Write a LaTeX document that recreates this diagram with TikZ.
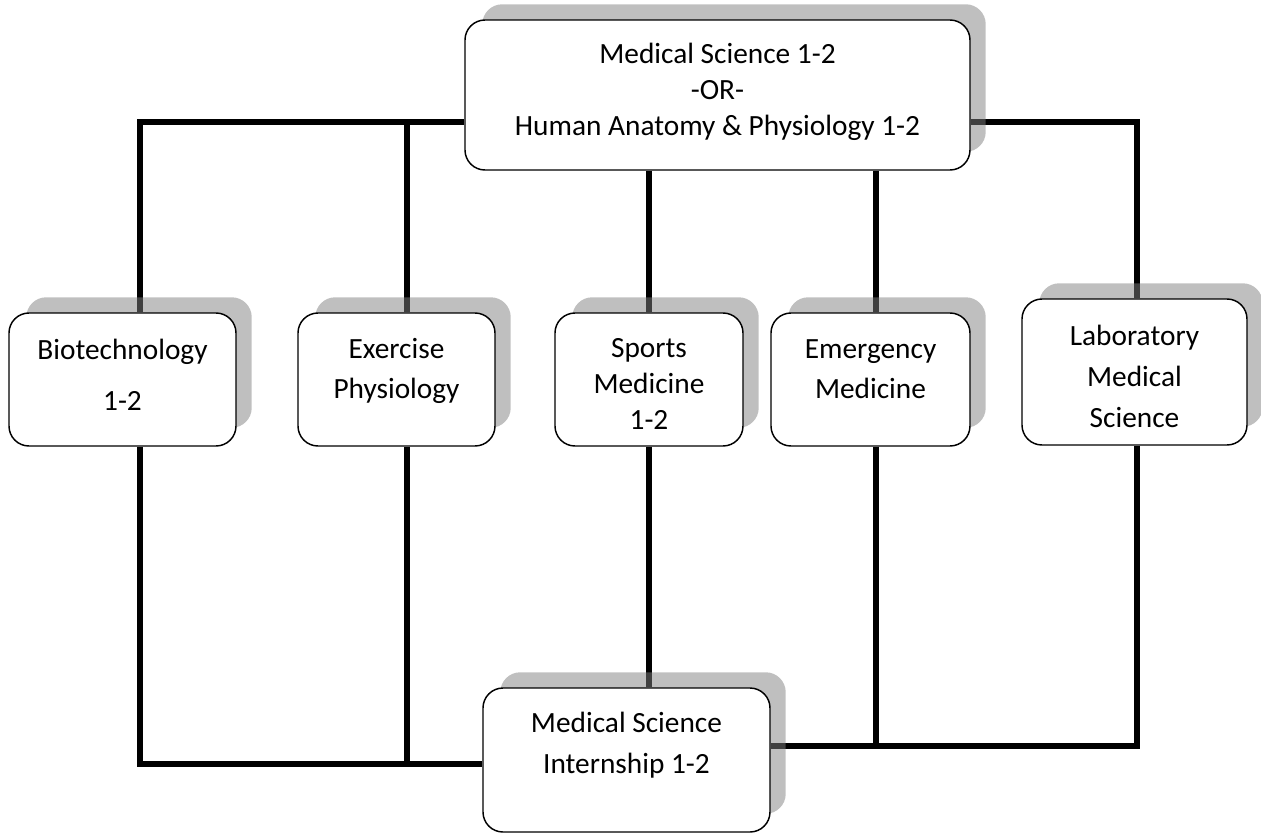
\documentclass[tikz,border=0pt]{standalone}
\usepackage{fontspec}
\setmainfont{Carlito}
\usetikzlibrary{calc}
\pgfdeclarelayer{lines}
\pgfdeclarelayer{shadows}
\pgfsetlayers{lines,shadows,main}
\newcommand{\topstrut}{\rule{0pt}{22.5pt}}
\newcommand{\botstrut}[1]{\rule[-#1]{0pt}{0pt}}
\begin{document}
\begin{tikzpicture}[x=0.75pt,y=-0.75pt]
\tikzset{
  box/.style={draw=black, line width=1.1pt, fill=white, rounded corners=15pt,
    align=center, inner sep=0pt, font=\fontsize{22}{27}\selectfont},
  conn/.style={line width=4pt, line join=miter},
  shadefill/.style={fill=black!50, fill opacity=0.5, rounded corners=15pt},
}
\useasboundingbox (0,0) rectangle (1261,833);

% boxes
\node[box, minimum width=378.75pt, minimum height=112.5pt] (top) at (717.5,95)
  {\topstrut Medical Science 1-2\\-OR-\\Human Anatomy \& Physiology 1-2\botstrut{16.5pt}};
\node[box, minimum width=170.25pt, minimum height=99.75pt] (bio) at (122.5,379.5)
  {\topstrut Biotechnology\\[11.25pt]1-2\botstrut{15pt}};
\node[box, minimum width=147.75pt, minimum height=99.75pt] (exe) at (396.5,379.5)
  {\topstrut Exercise\\[3pt]Physiology\botstrut{24.75pt}};
\node[box, minimum width=141pt, minimum height=99.75pt] (spo) at (649,379.5)
  {\topstrut Sports\\Medicine\\1-2\botstrut{2.25pt}};
\node[box, minimum width=149.25pt, minimum height=99.75pt] (emg) at (870.5,379.5)
  {\topstrut Emergency\\[3pt]Medicine\botstrut{24.75pt}};
\node[box, minimum width=168.75pt, minimum height=109.5pt] (lab) at (1134.5,372)
  {\topstrut Laboratory\\[3.75pt]Medical\\[3.75pt]Science\botstrut{1.5pt}};
\node[box, minimum width=215.25pt, minimum height=108pt] (bot) at (626.5,760)
  {\topstrut Medical Science\\[3.75pt]Internship 1-2\botstrut{33.75pt}};

% shadows
\begin{pgfonlayer}{shadows}
\foreach \n in {top,bio,exe,spo,emg,lab,bot}{
  \path[shadefill] ($(\n.north west)+(18,-15)$) rectangle ($(\n.south east)+(15,-19)$);
}
\end{pgfonlayer}

% connectors
\coordinate (tl) at (140,122);
\coordinate (te) at (407,122);
\coordinate (tr) at (1137,122);
\coordinate (ex) at (876,170);
\coordinate (bl) at (140,764);
\coordinate (bx) at (407,764);
\coordinate (br) at (1137,746);
\coordinate (be) at (876,746);
\begin{pgfonlayer}{lines}
\draw[conn] (top.west |- tl) -- (tl) -- (bio.north -| tl);
\draw[conn] (te) -- (exe.north -| te);
\draw[conn] (top.east |- tr) -- (tr) -- (lab.north -| tr);
\draw[conn] (top.south -| spo.north) -- (spo.north);
\draw[conn] (top.south -| ex) -- (emg.north -| ex);
\draw[conn] (bio.south -| bl) -- (bl) -- (bot.west |- bl);
\draw[conn] (exe.south -| bx) -- (bx);
\draw[conn] (spo.south) -- (bot.north -| spo.south);
\draw[conn] (lab.south -| br) -- (br) -- (bot.east |- br);
\draw[conn] (emg.south -| be) -- (be);
\end{pgfonlayer}
\end{tikzpicture}
\end{document}
